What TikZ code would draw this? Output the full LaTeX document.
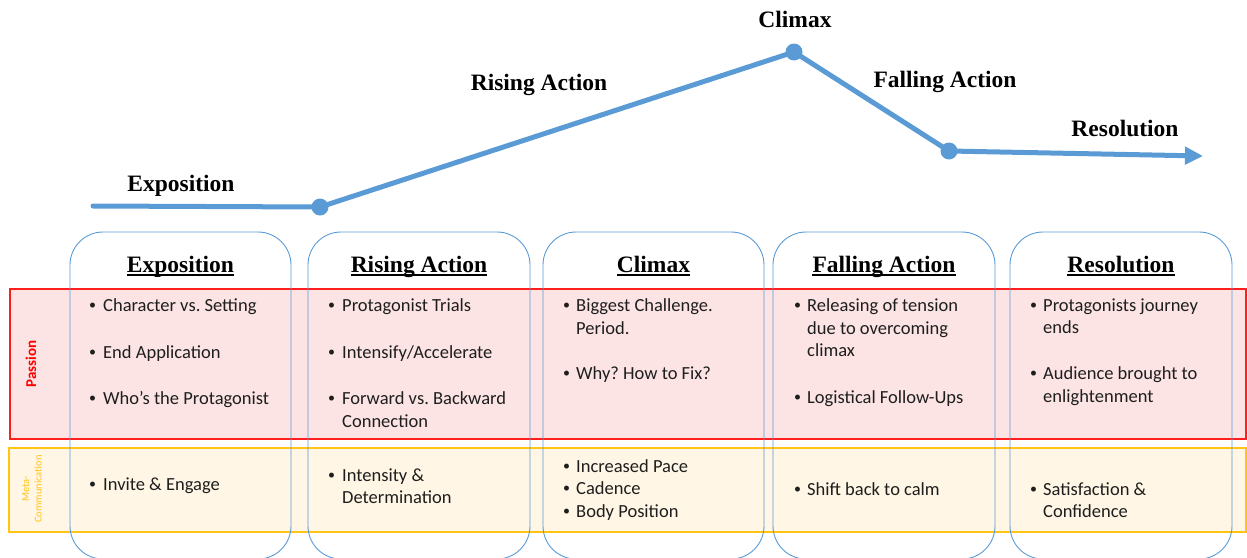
\documentclass[tikz,border=0pt]{standalone}
\usepackage{fontspec}
\setmainfont{Carlito}
\newfontfamily\headfont{Liberation Serif}
\usetikzlibrary{arrows.meta}
\frenchspacing
\definecolor{arcblue}{RGB}{91,155,213}
\definecolor{bandred}{RGB}{252,228,228}
\definecolor{edgered}{RGB}{255,30,30}
\definecolor{bandyellow}{RGB}{255,246,229}
\definecolor{edgeyellow}{RGB}{255,196,20}
\definecolor{bodyink}{RGB}{30,30,30}
\tikzset{
  stage/.style={font=\headfont\bfseries\fontsize{23.5}{26}\selectfont, inner sep=0pt, anchor=base},
  marker/.style={circle, fill=arcblue, minimum size=17pt, inner sep=0pt},
  colbox/.style={draw=arcblue, line width=0.9pt, rounded corners=33pt},
  body/.style={font=\fontsize{18.5}{22}\selectfont, text=bodyink, inner sep=0pt, anchor=base west},
  dot/.style={font=\fontsize{14}{16}\selectfont, text=bodyink, inner sep=0pt, anchor=base west, yshift=2pt},
  rowlabel/.style={inner sep=0pt, rotate=90, align=center},
}
% one line of body text, and a bullet in front of an item
\newcommand\bl[4]{\node[body] (#1) at (#2,#3) {#4};}
\newcommand\bd[3]{\node[dot] (#1) at (#2,#3) {•};}
\begin{document}
\begin{tikzpicture}[x=1pt,y=-1pt]
\useasboundingbox (0,0) rectangle (1247,557);
\clip (0,0) rectangle (1247,557);

% ---- story arc ----
\coordinate (s) at (93,206);
\node[marker] (p1) at (320,207) {};
\node[marker] (p2) at (794,52) {};
\node[marker] (p3) at (949,151) {};
\coordinate (e) at (1203,156);
\draw[arcblue, line width=5pt, line cap=round, line join=round,
      -{Triangle[length=18pt,width=17pt]}]
  (s) -- (p1.center) -- (p2.center) -- (p3.center) -- (e);

\node[stage] (a1) at (181,191) {Exposition};
\node[stage] (a2) at (539,90) {Rising Action};
\node[stage] (a3) at (795,27) {Climax};
\node[stage] (a4) at (945,87) {Falling Action};
\node[stage] (a5) at (1125,136) {Resolution};

% ---- row bands ----
\draw[edgered, line width=1.3pt, fill=bandred] (10,289) rectangle (1246,439);
\draw[edgeyellow, line width=1.3pt, fill=bandyellow] (9,448) rectangle (1246,532);

\node[rowlabel, text=red, font=\bfseries\fontsize{15}{17}\selectfont] (passion) at (31,364) {Passion};
\node[rowlabel, text=edgeyellow, font=\fontsize{10.5}{12.5}\selectfont] (meta) at (32,489) {Meta-\\Communication};

% ---- stage columns ----
\draw[colbox] (70,232) rectangle (291,559);
\draw[colbox] (308,232) rectangle (530,559);
\draw[colbox] (543,232) rectangle (764,559);
\draw[colbox] (773,232) rectangle (995,559);
\draw[colbox] (1010,232) rectangle (1232,559);

% ---- column headings, underlined ----
\foreach \n/\x/\t in {1/180.5/Exposition, 2/419/Rising Action, 3/653.5/Climax, 4/884/Falling Action, 5/1121/Resolution}{
  \node[stage] (h\n) at (\x,272) {\t};
  \draw[black, line width=1.1pt] ([yshift=-3pt]h\n.base west) -- ([yshift=-3pt]h\n.base east);
}

% ---- Passion row ----
\bd{b11}{89}{311}\bl{t11}{103}{311}{Character vs. Setting}
\bd{b12}{89}{358}\bl{t12}{103}{358}{End Application}
\bd{b13}{89}{404}\bl{t13}{103}{404}{Who’s the Protagonist}

\bd{b21}{328}{311}\bl{t21}{342}{311}{Protagonist Trials}
\bd{b22}{328}{358}\bl{t22}{342}{358}{Intensify/Accelerate}
\bd{b23}{328}{404}\bl{t23}{342}{404}{Forward vs. Backward}
\bl{t24}{342}{427}{Connection}

\bd{b31}{563}{311}\bl{t31}{576}{311}{Biggest Challenge.}
\bl{t32}{576}{334}{Period.}
\bd{b33}{563}{379}\bl{t33}{576}{379}{Why? How to Fix?}

\bd{b41}{794}{311}\bl{t41}{807}{311}{Releasing of tension}
\bl{t42}{807}{334}{due to overcoming}
\bl{t43}{807}{356}{climax}
\bd{b44}{794}{403}\bl{t44}{807}{403}{Logistical Follow-Ups}

\bd{b51}{1030}{311}\bl{t51}{1043}{311}{Protagonists journey}
\bl{t52}{1043}{333}{ends}
\bd{b53}{1030}{379}\bl{t53}{1043}{379}{Audience brought to}
\bl{t54}{1043}{402}{enlightenment}

% ---- Meta-Communication row ----
\bd{m11}{89}{490}\bl{u11}{103}{490}{Invite \& Engage}

\bd{m21}{328}{481}\bl{u21}{342}{481}{Intensity \&}
\bl{u22}{342}{503}{Determination}

\bd{m31}{563}{472}\bl{u31}{576}{472}{Increased Pace}
\bd{m32}{563}{494}\bl{u32}{576}{494}{Cadence}
\bd{m33}{563}{517}\bl{u33}{576}{517}{Body Position}

\bd{m41}{794}{495}\bl{u41}{807}{495}{Shift back to calm}

\bd{m51}{1030}{495}\bl{u51}{1043}{495}{Satisfaction \&}
\bl{u52}{1043}{517}{Confidence}
\end{tikzpicture}
\end{document}
